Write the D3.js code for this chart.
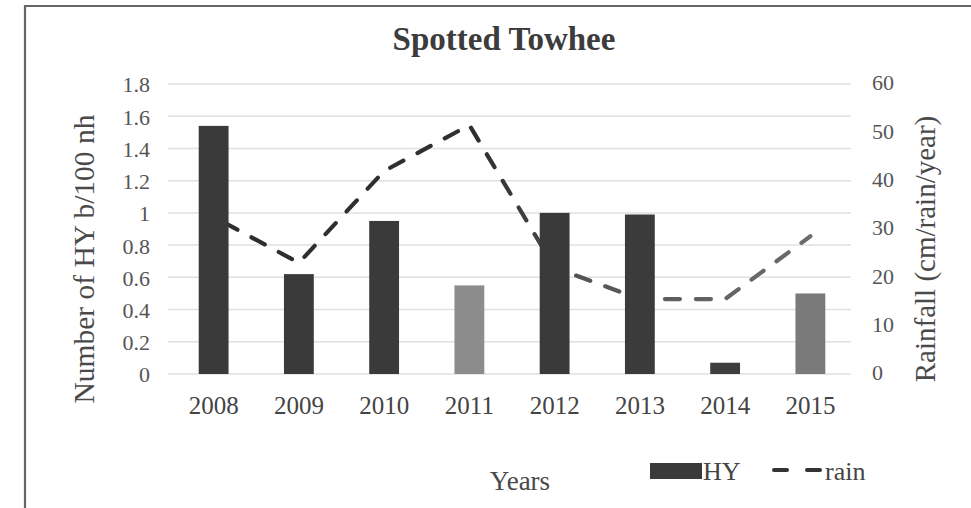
<!DOCTYPE html>
<html>
<head>
<meta charset="utf-8">
<script src="https://cdn.jsdelivr.net/npm/d3@7/dist/d3.min.js"></script>
<style>
  html, body { margin: 0; padding: 0; background: #fff; }
  svg { display: block; }
  text { font-family: "Liberation Serif", "Times New Roman", serif; }
</style>
</head>
<body>
<svg id="chart" width="971" height="508"></svg>
<script>
// Spotted Towhee: hatch-year birds per 100 net hours (bars) and annual rainfall (dashed line)
const years = ["2008", "2009", "2010", "2011", "2012", "2013", "2014", "2015"];
const hyValues = [1.54, 0.62, 0.95, 0.55, 1.0, 0.99, 0.07, 0.5];
const rainValues = [32.5, 23, 42, 51.5, 22, 15.5, 15.5, 28.5];
const leftTicks = [0, 0.2, 0.4, 0.6, 0.8, 1, 1.2, 1.4, 1.6, 1.8];
const rightTicks = [0, 10, 20, 30, 40, 50, 60];

// fill per bar
const barFills = ["#3a3a3a", "#3a3a3a", "#3a3a3a", "#8c8c8c", "#3a3a3a", "#3b3b3b", "#3e3e3e", "#7a7a7a"];

const svg = d3.select("#chart");

// outer frame
svg.append("path")
  .attr("d", "M25,512 L25,6 L975,6")
  .attr("fill", "none")
  .attr("stroke", "#666")
  .attr("stroke-width", 2.2);

const x = d3.scaleBand()
  .domain(years)
  .range([171, 853])
  .paddingInner(0.65)
  .paddingOuter(0.325);

const y = d3.scaleLinear().domain([0, 1.8]).range([374, 84]);
const yRain = d3.scaleLinear().domain([0, 60]).range([374, 84]);

// gridlines
svg.append("g")
  .selectAll("line")
  .data(leftTicks)
  .join("line")
  .attr("x1", 168)
  .attr("x2", 851)
  .attr("y1", d => y(d))
  .attr("y2", d => y(d))
  .attr("stroke", "#e0e0e0")
  .attr("stroke-width", 1.5);

// left axis
const leftAxis = svg.append("g")
  .attr("transform", "translate(150,0)")
  .call(d3.axisLeft(y).tickValues(leftTicks).tickSize(0).tickPadding(0)
    .tickFormat(d => String(d)));
leftAxis.select(".domain").remove();
leftAxis.selectAll("text")
  .attr("font-family", "Liberation Serif")
  .attr("font-size", 22)
  .attr("fill", "#555")
  .attr("dy", "0.36em");

// right axis
const rightAxis = svg.append("g")
  .attr("transform", "translate(872,-2)")
  .call(d3.axisRight(yRain).tickValues(rightTicks).tickSize(0).tickPadding(0)
    .tickFormat(d => String(d)));
rightAxis.select(".domain").remove();
rightAxis.selectAll("text")
  .attr("font-family", "Liberation Serif")
  .attr("font-size", 22)
  .attr("fill", "#555")
  .attr("dy", "0.36em");

// bottom category labels
const bottomAxis = svg.append("g")
  .attr("transform", "translate(0,396)")
  .call(d3.axisBottom(x).tickSize(0).tickPadding(0));
bottomAxis.select(".domain").remove();
bottomAxis.selectAll("text")
  .attr("font-family", "Liberation Serif")
  .attr("font-size", 25)
  .attr("fill", "#444")
  .attr("dy", "0.71em");

// rainfall line, shading lighter toward later years
const defs = svg.append("defs");
const grad = defs.append("linearGradient")
  .attr("id", "rainGrad")
  .attr("gradientUnits", "userSpaceOnUse")
  .attr("x1", x("2008") + x.bandwidth() / 2)
  .attr("x2", x("2015") + x.bandwidth() / 2)
  .attr("y1", 0).attr("y2", 0);
grad.append("stop").attr("offset", "0").attr("stop-color", "#2e2e2e");
grad.append("stop").attr("offset", "0.45").attr("stop-color", "#303030");
grad.append("stop").attr("offset", "0.62").attr("stop-color", "#555");
grad.append("stop").attr("offset", "1").attr("stop-color", "#6c6c6c");

const line = d3.line()
  .x((d, i) => x(years[i]) + x.bandwidth() / 2)
  .y(d => yRain(d));

svg.append("path")
  .datum(rainValues)
  .attr("d", line)
  .attr("fill", "none")
  .attr("stroke", "url(#rainGrad)")
  .attr("stroke-width", 4.2)
  .attr("stroke-linecap", "round")
  .attr("stroke-dasharray", "15,16")
  .attr("stroke-dashoffset", -12);

// bars
svg.append("g")
  .selectAll("rect")
  .data(hyValues)
  .join("rect")
  .attr("x", (d, i) => x(years[i]))
  .attr("y", d => y(d))
  .attr("width", x.bandwidth())
  .attr("height", d => y(0) - y(d))
  .attr("fill", (d, i) => barFills[i]);

// title
svg.append("text")
  .attr("x", 504)
  .attr("y", 50)
  .attr("text-anchor", "middle")
  .attr("font-size", 33)
  .attr("font-weight", "bold")
  .attr("fill", "#3c3c3c")
  .text("Spotted Towhee");

// axis titles
svg.append("text")
  .attr("transform", "translate(94,259) rotate(-90)")
  .attr("text-anchor", "middle")
  .attr("font-size", 29.5)
  .attr("fill", "#4a4a4a")
  .text("Number of HY b/100 nh");

svg.append("text")
  .attr("transform", "translate(935,249) rotate(-90)")
  .attr("text-anchor", "middle")
  .attr("font-size", 29)
  .attr("fill", "#4a4a4a")
  .text("Rainfall (cm/rain/year)");

svg.append("text")
  .attr("x", 520)
  .attr("y", 490)
  .attr("text-anchor", "middle")
  .attr("font-size", 27)
  .attr("fill", "#4a4a4a")
  .text("Years");

// legend
const legend = svg.append("g");
legend.append("rect")
  .attr("x", 650).attr("y", 463)
  .attr("width", 52).attr("height", 16)
  .attr("fill", "#3a3a3a");
legend.append("text")
  .attr("x", 703).attr("y", 480)
  .attr("font-size", 26)
  .attr("fill", "#444")
  .text("HY");
legend.append("line")
  .attr("x1", 774).attr("x2", 823)
  .attr("y1", 470).attr("y2", 470)
  .attr("stroke", "#333")
  .attr("stroke-width", 4)
  .attr("stroke-linecap", "round")
  .attr("stroke-dasharray", "13,20");
legend.append("text")
  .attr("x", 825).attr("y", 480)
  .attr("font-size", 26)
  .attr("fill", "#444")
  .text("rain");
</script>
</body>
</html>
